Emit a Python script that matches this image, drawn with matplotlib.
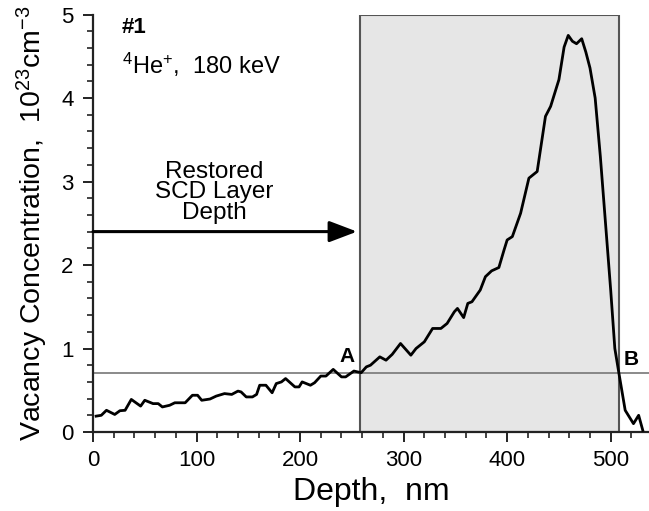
import matplotlib
matplotlib.use("Agg")
import matplotlib.pyplot as plt
from matplotlib.patches import Rectangle
from matplotlib.ticker import MultipleLocator

plt.rcParams['font.family'] = ['Liberation Sans', 'DejaVu Sans']
plt.rcParams['mathtext.fontset'] = 'custom'
plt.rcParams['mathtext.rm'] = 'Liberation Sans'
plt.rcParams['mathtext.it'] = 'Liberation Sans:italic'
plt.rcParams['mathtext.bf'] = 'Liberation Sans:bold'

# Data (depth in nm, vacancy concentration in 1e23 cm^-3)
depth = [3, 8, 13, 21, 26, 31, 37, 46, 50, 58, 63, 67, 74, 79, 89, 96, 101, 105,
         113, 119, 127, 134, 140, 143, 148, 154, 158, 161, 167, 173, 177, 182,
         186, 195, 199, 202, 210, 214, 220, 225, 232, 240, 244, 252, 259, 264,
         268, 277, 283, 289, 297, 307, 312, 320, 328, 336, 342, 349, 352, 358,
         362, 366, 374, 379, 385, 392, 397, 400, 405, 413, 421, 429, 437, 442,
         450, 455, 459, 463, 467, 472, 476, 480, 485, 490, 495, 500, 504, 508,
         514, 522, 527, 531]
conc = [0.19, 0.20, 0.26, 0.21, 0.255, 0.26, 0.39, 0.31, 0.38, 0.34, 0.34, 0.30,
        0.32, 0.35, 0.35, 0.44, 0.44, 0.38, 0.395, 0.43, 0.46, 0.45, 0.49, 0.48,
        0.42, 0.42, 0.45, 0.56, 0.56, 0.47, 0.58, 0.60, 0.64, 0.54, 0.54, 0.60,
        0.56, 0.59, 0.67, 0.67, 0.75, 0.66, 0.66, 0.73, 0.71, 0.78, 0.80, 0.90,
        0.86, 0.93, 1.06, 0.92, 1.00, 1.08, 1.24, 1.24, 1.30, 1.44, 1.48, 1.37,
        1.54, 1.56, 1.70, 1.86, 1.93, 1.97, 2.18, 2.30, 2.34, 2.62, 3.04, 3.12,
        3.78, 3.90, 4.22, 4.61, 4.75, 4.68, 4.65, 4.71, 4.55, 4.36, 4.00, 3.30,
        2.50, 1.70, 1.00, 0.70, 0.26, 0.10, 0.20, 0.02]

threshold = 0.71
layer_start = 258
layer_end = 508
arrow_y = 2.4
arrow_end = 255

fig = plt.figure(figsize=(6.49, 5.11), dpi=100)
ax = fig.add_axes([0.1433, 0.1546, 0.8567, 0.817])

ax.add_patch(Rectangle((layer_start, 0), layer_end - layer_start, 5,
                       facecolor='#e6e6e6', edgecolor='#555555', linewidth=1.5, zorder=1))
ax.axhline(threshold, color='#777777', linewidth=1.2, zorder=2)
ax.plot(depth, conc, color='black', linewidth=2.0, zorder=3)

ax.annotate('', xy=(arrow_end, arrow_y), xytext=(0, arrow_y),
            arrowprops=dict(arrowstyle='-|>,head_length=1.0,head_width=0.38',
                            color='black', linewidth=2.2, shrinkA=0, shrinkB=0,
                            mutation_scale=17), zorder=4)

ax.text(117.5, 2.87, 'Restored\nSCD Layer\nDepth', ha='center', va='center',
        fontsize=17.5, linespacing=0.9)
ax.text(28, 4.85, '#1', fontsize=16, fontweight='bold', va='center', ha='left')
ax.text(28, 4.4, r'$^{4}$He$^{+}$,  180 keV', fontsize=17, va='center', ha='left')
ax.text(245, 0.91, 'A', fontsize=15, fontweight='bold', ha='center', va='center')
ax.text(520, 0.87, 'B', fontsize=15, fontweight='bold', ha='center', va='center')

ax.set_xlim(0, 537)
ax.set_ylim(0, 5)
ax.xaxis.set_major_locator(MultipleLocator(100))
ax.xaxis.set_minor_locator(MultipleLocator(20))
ax.yaxis.set_major_locator(MultipleLocator(1))
ax.yaxis.set_minor_locator(MultipleLocator(0.2))

for s in ['top', 'right']:
    ax.spines[s].set_visible(False)
for s in ['left', 'bottom']:
    ax.spines[s].set_linewidth(1.6)
    ax.spines[s].set_color('#222222')

ax.tick_params(which='major', length=7, width=1.4, labelsize=16, pad=6, color='#222222')
ax.tick_params(which='minor', length=4, width=1.2, color='#222222')
ax.tick_params(axis='y', which='major', pad=7)

ax.set_xlabel('Depth,  nm', fontsize=23, labelpad=4)
ax.set_ylabel(r'Vacancy Concentration,  10$^{23}$cm$^{-3}$', fontsize=20.5, labelpad=8)

fig.savefig('out.png', dpi=100)
